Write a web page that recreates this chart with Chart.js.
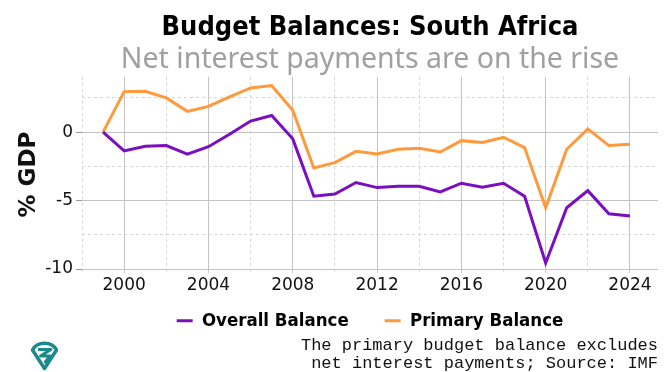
<!DOCTYPE html>
<html lang="en">
<head>
    <meta charset="UTF-8">
    <title>Budget Balances: South Africa</title>
    <script src="https://cdn.jsdelivr.net/npm/chart.js"></script>
    <style>
        body { margin: 0; background: #fff; }
        #wrap { position: relative; width: 670px; height: 372px; }
        #note {
            position: absolute; right: 12px; top: 337px;
            font-family: "Liberation Mono", "DejaVu Sans Mono", monospace;
            font-size: 17px; line-height: 18px; color: #111; text-align: right;
        }
        #logo { position: absolute; left: 29px; top: 341px; }
    </style>
</head>
<body>
<div id="wrap">
    <canvas id="balanceChart" width="670" height="372"></canvas>
    <div id="note">The primary budget balance excludes<br>net interest payments; Source: IMF</div>
    <svg id="logo" width="31" height="30" viewBox="0 0 31 30">
        <path d="M3.5 9 A13 11 0 0 1 27.5 9 L15.5 27.5 Z" fill="none" stroke="#1b8a8f" stroke-width="3.5" stroke-linejoin="round"/>
        <path d="M9 8.5 L22 8.5 L11.5 15 L21 15 L15.5 22" fill="none" stroke="#1b8a8f" stroke-width="3" stroke-linejoin="round"/>
    </svg>
</div>

<script>
    // values (% of GDP)
    const years = [1999, 2000, 2001, 2002, 2003, 2004, 2005, 2006, 2007, 2008, 2009, 2010, 2011,
                   2012, 2013, 2014, 2015, 2016, 2017, 2018, 2019, 2020, 2021, 2022, 2023, 2024];
    const overallBalance = [0, -1.37, -1.03, -0.98, -1.6, -1.06, -0.15, 0.81, 1.22, -0.49, -4.68, -4.52, -3.68,
                            -4.05, -3.95, -3.95, -4.36, -3.73, -4.02, -3.73, -4.68, -9.56, -5.52, -4.27, -5.96, -6.13];
    const primaryBalance = [0, 2.96, 2.99, 2.5, 1.52, 1.88, 2.57, 3.23, 3.4, 1.59, -2.62, -2.23, -1.4,
                            -1.6, -1.25, -1.18, -1.45, -0.62, -0.76, -0.37, -1.13, -5.52, -1.25, 0.24, -0.98, -0.88];
    const yTickLabels = [0, -5, -10];

    const narrowFont = '"DejaVu Sans Condensed", "DejaVu Sans", sans-serif';
    const tickFont = { family: '"DejaVu Sans", sans-serif', size: 17 };

    const toPoints = vals => years.map((yr, i) => ({ x: yr, y: vals[i] }));

    const isMajorX = v => v % 4 === 0;
    const isMajorY = v => v % 5 === 0;

    // nudge the legend up, closer to the axis labels
    const legendNudge = {
        id: 'legendNudge',
        afterLayout(chart) {
            chart.legend.top -= 21;
            chart.legend.bottom -= 21;
        }
    };

    const ctx = document.getElementById('balanceChart').getContext('2d');
    const chart = new Chart(ctx, {
        type: 'line',
        data: {
            datasets: [{
                label: 'Overall Balance',
                data: toPoints(overallBalance),
                borderColor: '#7a0fc0',
                backgroundColor: '#7a0fc0',
                borderWidth: 3,
                pointRadius: 0,
                tension: 0
            }, {
                label: 'Primary Balance',
                data: toPoints(primaryBalance),
                borderColor: '#ff9a3c',
                backgroundColor: '#ff9a3c',
                borderWidth: 3,
                pointRadius: 0,
                tension: 0
            }]
        },
        plugins: [legendNudge],
        options: {
            responsive: false,
            animation: false,
            layout: { padding: { left: 0, right: 12, top: 0, bottom: 11 } },
            plugins: {
                title: {
                    display: true,
                    fullSize: false,
                    text: 'Budget Balances: South Africa',
                    color: '#000',
                    font: { family: narrowFont, size: 27, weight: 'bold', lineHeight: 1 },
                    padding: { top: 14.5, bottom: 0 }
                },
                subtitle: {
                    display: true,
                    fullSize: false,
                    text: 'Net interest payments are on the rise',
                    color: '#a0a0a0',
                    font: { family: '"Noto Sans", sans-serif', size: 28.5 },
                    padding: { top: 1, bottom: 0 }
                },
                legend: {
                    position: 'bottom',
                    fullSize: false,
                    labels: {
                        usePointStyle: true,
                        pointStyle: 'line',
                        pointStyleWidth: 16,
                        padding: 36,
                        color: '#000',
                        font: { family: narrowFont, size: 18.5, weight: 'bold' }
                    }
                },
                tooltip: { enabled: false }
            },
            scales: {
                x: {
                    type: 'linear',
                    min: 1998,
                    max: 2025.33,
                    afterFit: scale => { scale.height = 24; },
                    ticks: {
                        stepSize: 2,
                        includeBounds: false,
                        autoSkip: false,
                        maxRotation: 0,
                        padding: 3,
                        color: '#111',
                        font: tickFont,
                        callback: v => isMajorX(v) ? String(v) : ''
                    },
                    grid: {
                        drawTicks: false,
                        color: c => isMajorX(c.tick.value) ? '#c4c4c4' : '#d6d6d6',
                        lineWidth: 1
                    },
                    border: {
                        display: false,
                        dash: c => (c.tick && !isMajorX(c.tick.value)) ? [3, 3] : []
                    }
                },
                y: {
                    min: -10.25,
                    max: 4.05,
                    afterFit: scale => { scale.width = 82; },
                    title: {
                        display: true,
                        text: '% GDP',
                        color: '#111',
                        font: { family: '"DejaVu Sans", sans-serif', size: 23, weight: 'bold' },
                        padding: { top: 15, bottom: 0 }
                    },
                    ticks: {
                        stepSize: 2.5,
                        includeBounds: false,
                        autoSkip: false,
                        padding: 3,
                        color: '#111',
                        font: tickFont,
                        callback: v => yTickLabels.includes(v) ? String(v) : ''
                    },
                    grid: {
                        tickLength: 6,
                        color: c => isMajorY(c.tick.value) ? '#c4c4c4' : '#d6d6d6',
                        tickColor: c => isMajorY(c.tick.value) ? '#999' : 'rgba(0,0,0,0)',
                        lineWidth: 1
                    },
                    border: {
                        display: false,
                        dash: c => (c.tick && !isMajorY(c.tick.value)) ? [3, 3] : []
                    }
                }
            }
        }
    });
</script>
</body>
</html>
